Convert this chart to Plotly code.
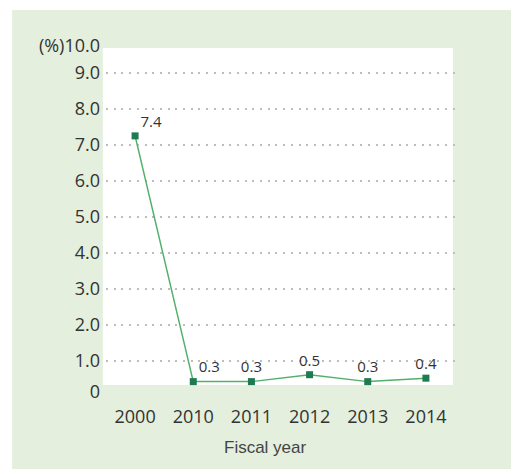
import plotly.graph_objects as go

# data
years = ["2000", "2010", "2011", "2012", "2013", "2014"]
rates = [7.4, 0.3, 0.3, 0.5, 0.3, 0.4]
rate_labels = ["7.4", "0.3", "0.3", "0.5", "0.3", "0.4"]
label_pos = ["top right", "top right", "top center", "top center", "top center", "top center"]

grid_vals = [1, 2, 3, 4, 5, 6, 7, 8, 9]
grid_text = ["1.0", "2.0", "3.0", "4.0", "5.0", "6.0", "7.0", "8.0", "9.0"]
end_vals = [0, 10]
end_text = ["0", "(%)10.0"]

fig = go.Figure()

# empty trace so the grid axis (y) gets drawn
fig.add_trace(go.Scatter(x=years, y=[None] * len(years), yaxis="y",
                         showlegend=False, hoverinfo="skip"))

fig.add_trace(go.Scatter(
    x=years, y=rates, yaxis="y2",
    mode="lines+markers+text",
    text=rate_labels, textposition=label_pos,
    textfont=dict(family="Open Sans", size=15, color="#333333"),
    line=dict(color="#52b06a", width=1.5),
    marker=dict(symbol="square", size=7, color="#1e7a50"),
    showlegend=False,
    cliponaxis=False,
))

tick_font = dict(family="Open Sans", size=18, color="#333333")

fig.update_layout(
    width=511, height=469,
    margin=dict(l=106, r=56, t=40, b=69),
    paper_bgcolor="white",
    plot_bgcolor="rgba(0,0,0,0)",
    xaxis=dict(
        type="category", range=[-0.5, 5.5],
        showgrid=False, zeroline=False, showline=False, ticks="",
        ticklabelstandoff=4,
        tickfont=dict(family="Open Sans", size=18, color="#333333"),
    ),
    yaxis=dict(
        range=[-0.083, 9.917],
        tickmode="array", tickvals=grid_vals, ticktext=grid_text,
        showgrid=True, gridcolor="#bdbdbd", gridwidth=2, griddash="2px,5.7px",
        zeroline=False, showline=False, ticks="",
        ticklabelstandoff=5,
        tickfont=tick_font,
    ),
    yaxis2=dict(
        overlaying="y", side="left",
        range=[-0.231, 10.17],
        tickmode="array", tickvals=end_vals, ticktext=end_text,
        showgrid=False, zeroline=False, showline=False, ticks="",
        ticklabelstandoff=5,
        tickfont=tick_font,
    ),
    shapes=[
        # green panel, runs off the right and bottom edges
        dict(type="rect", xref="paper", yref="paper", layer="below",
             x0=-0.269, x1=1.25, y0=-0.3, y1=1.083,
             fillcolor="#e4efdd", line=dict(width=0)),
        # white plot panel
        dict(type="rect", xref="paper", yref="paper", layer="below",
             x0=-0.009, x1=0.994, y0=0.042, y1=0.978,
             fillcolor="white", line=dict(width=0)),
    ],
    annotations=[
        dict(text="Fiscal year", xref="paper", yref="paper",
             x=0.458, y=-0.133, xanchor="center", yanchor="middle",
             showarrow=False,
             font=dict(family="Liberation Sans", size=17, color="#444444")),
    ],
)

# drop the default body margin and scrollbars so the figure fills the window
fig.write_html("out.html", config={"displayModeBar": False},
               post_script="document.body.style.margin='0';"
                           "document.body.style.overflow='hidden';")
